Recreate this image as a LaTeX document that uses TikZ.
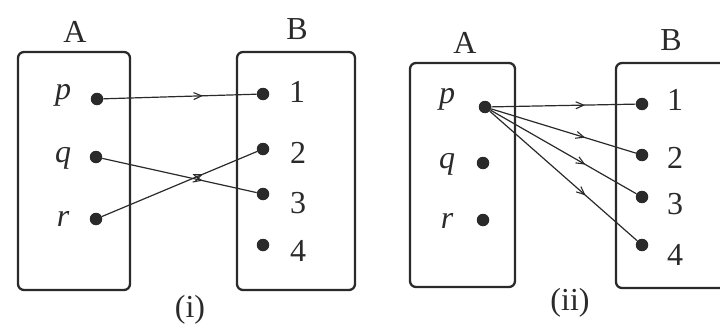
\documentclass[tikz,border=0pt]{standalone}
\usepackage{fontspec}
\setmainfont{Liberation Serif}
\usetikzlibrary{arrows.meta,decorations.markings}
\definecolor{ink}{HTML}{2A2A2A}
\tikzset{
  setbox/.style={draw=ink,line width=2.3pt,rounded corners=6pt},
  dot/.style={circle,fill=ink,inner sep=0pt,minimum size=12.5pt},
  lbl/.style={text=ink,font=\fontsize{32}{36}\selectfont,inner sep=0pt},
  elem/.style={text=ink,font=\fontsize{32}{36}\selectfont\itshape,inner sep=0pt},
  link/.style={draw=ink,line width=1.2pt,postaction={decorate},
    decoration={markings,mark=at position 0.65 with {\arrow{Straight Barb[length=8pt,width=7pt,line width=1.1pt]}}}}
}
\begin{document}
\begin{tikzpicture}[x=1pt,y=-1pt]
\useasboundingbox (0,0) rectangle (720,329);
% ---- (i)
\draw[setbox] (18,52) rectangle (130,290);
\draw[setbox] (237,52) rectangle (355,290);
\node[lbl] (LA) at (75,32) {A};
\node[lbl] (LB) at (297,29) {B};
\node[elem] (tp) at (63,95) {p};
\node[elem] (tq) at (63,158) {q};
\node[elem] (tr) at (63,219) {r};
\node[dot] (p1) at (97,99) {};
\node[dot] (q1) at (96,157) {};
\node[dot] (r1) at (96,219) {};
\node[dot] (b11) at (263,94) {};
\node[dot] (b21) at (263,149) {};
\node[dot] (b31) at (263,194) {};
\node[dot] (b41) at (263,245) {};
\node[lbl] (n11) at (297,92) {1};
\node[lbl] (n21) at (298,153) {2};
\node[lbl] (n31) at (298,203) {3};
\node[lbl] (n41) at (298,251) {4};
\node[lbl] (ci) at (190,310) {(i)};
\draw[link] (p1) -- (b11);
\draw[link] (q1) -- (b31);
\draw[link] (r1) -- (b21);
% ---- (ii)
\draw[setbox] (410,63) rectangle (515,287);
\draw[setbox] (616,63) rectangle (730,288);
\node[lbl] (LA2) at (465,43) {A};
\node[lbl] (LB2) at (671,40) {B};
\node[elem] (tp2) at (447,99) {p};
\node[elem] (tq2) at (447,164) {q};
\node[elem] (tr2) at (447,221) {r};
\node[dot] (p2) at (485,107) {};
\node[dot] (q2) at (483,163) {};
\node[dot] (r2) at (483,220) {};
\node[dot] (b12) at (642,104) {};
\node[dot] (b22) at (642,155) {};
\node[dot] (b32) at (642,197) {};
\node[dot] (b42) at (642,245) {};
\node[lbl] (n12) at (675,100) {1};
\node[lbl] (n22) at (675,158) {2};
\node[lbl] (n32) at (675,204) {3};
\node[lbl] (n42) at (675,255) {4};
\node[lbl] (cii) at (570,303) {(ii)};
\draw[link] (p2) -- (b12);
\draw[link] (p2) -- (b22);
\draw[link] (p2) -- (b32);
\draw[link] (p2) -- (b42);
\end{tikzpicture}
\end{document}
